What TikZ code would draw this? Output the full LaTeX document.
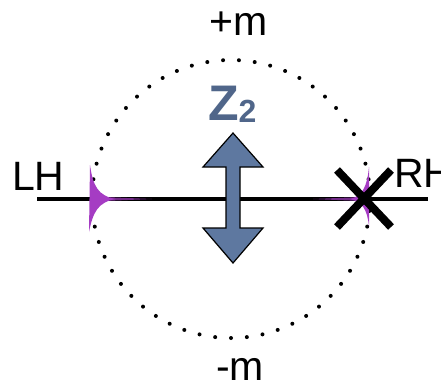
\documentclass[tikz,border=0pt]{standalone}
\usepackage{fontspec}
\setmainfont{Liberation Sans}
\usepackage{tikz}
\usetikzlibrary{positioning}
\definecolor{cuspviolet}{RGB}{165,60,195}
\definecolor{zfill}{RGB}{94,120,160}
\definecolor{ztext}{RGB}{80,102,138}

\begin{document}
\begin{tikzpicture}[x=1pt,y=-1pt,
    lbl/.style={font=\fontsize{41}{46}\selectfont,inner sep=0pt}]
        \clip (0,0) rectangle (441,384);
        \coordinate (ctr) at (231,199);
        \foreach \i in {0,1,...,54} {
          \pgfmathsetmacro\ang{270+(\i+0.5)*6.5454}
          \fill ([shift={(\ang:139)}]ctr) circle (2);
        }
        \coordinate (lineL) at (37,199);
        \coordinate (lineR) at (428,199);
        \draw[line width=3.8pt] (lineL) -- (lineR);
        % left cusp
        \fill[cuspviolet] (90,165) .. controls (93,186) and (98,196) .. (116,199)
          .. controls (98,202) and (93,212) .. (89,232) -- cycle;
        \fill[cuspviolet,opacity=0.7] (110,197.3) -- (152,199) -- (110,200.7) -- cycle;
        % right cusp
        \fill[cuspviolet] (369,167) .. controls (367,186) and (363,196) .. (350,199)
          .. controls (363,202) and (367,210) .. (369,226) -- cycle;
        \fill[cuspviolet,opacity=0.7] (355,197.3) -- (313,199) -- (355,200.7) -- cycle;
        \draw[line width=8pt] (337,170) -- (391,227);
        \draw[line width=8pt] (391,170) -- (337,227);
        % Z2 arrow
        \filldraw[fill=zfill,draw=black,line width=1.2pt,line join=miter]
          (233,133) -- (263,167) -- (240,167) -- (240,228) -- (263,228) -- (233,263)
          -- (203,228) -- (226,228) -- (226,167) -- (203,167) -- cycle;
        \node[inner sep=0pt,anchor=base west,text=ztext] (ztwo) at (208,120)
          {\fontsize{50}{52}\selectfont\bfseries Z\raisebox{-2pt}{\fontsize{32}{34}\selectfont 2}};
        \node[lbl,anchor=base] (plusm) at (239,35) {+m};
        \node[lbl,anchor=base] (minusm) at (240,380) {-m};
        \node[lbl,anchor=base west] (lh) at (12,190) {LH};
        \node[lbl,anchor=base west] (rh) at (394,187) {RH};
\end{tikzpicture}
\end{document}
